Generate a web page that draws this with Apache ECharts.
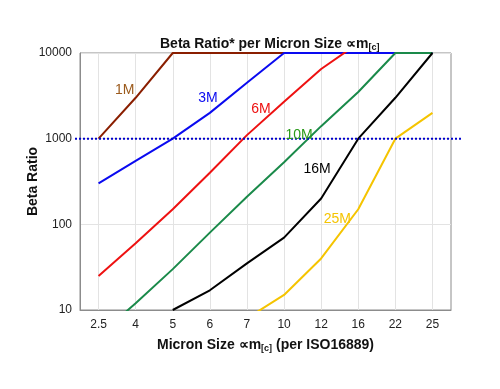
<!DOCTYPE html>
<html>
<head>
<meta charset="utf-8">
<script src="https://cdn.jsdelivr.net/npm/echarts@6/dist/echarts.min.js"></script>
<style>html,body{margin:0;padding:0;background:#fff}#c{width:500px;height:389px}</style>
</head>
<body>
<div id="c"></div>
<script>
const categories = ['2.5', '4', '5', '6', '7', '10', '12', '16', '22', '25'];
const yTicks = [10, 100, 1000, 10000];
const s1M  = [1000, 3000, 10000, 10000, 10000, 10000, 10000, 10000, 10000, 10000];
const s3M  = [300, 550, 1000, 2000, 4500, 10000, 10000, 10000, 10000, 10000];
const s6M  = [25, 60, 150, 400, 1100, 2700, 6500, 13000, null, null];
const s10M = [5, 12, 30, 80, 210, 530, 1400, 3500, 10000, 10000];
const s16M = [null, null, 10, 17, 35, 70, 200, 1000, 3000, 10000];
const s25M = [null, null, null, null, 8, 15, 40, 150, 1000, 2000];
const threshold = 1000;

const FONT = 'Liberation Sans, Arial, sans-serif';
const seriesDefs = [
  {name: '1M',  data: s1M,  color: '#8a1e00', labelColor: '#9b5a1c', idx: 1, off: [-11, -8]},
  {name: '3M',  data: s3M,  color: '#0a0af0', labelColor: '#0a0af0', idx: 3, off: [-2, -15]},
  {name: '6M',  data: s6M,  color: '#ee1111', labelColor: '#ee1111', idx: 4, off: [14, -26]},
  {name: '10M', data: s10M, color: '#1a8a4a', labelColor: '#2a9a1a', idx: 5, off: [15, -27]},
  {name: '16M', data: s16M, color: '#000000', labelColor: '#000000', idx: 6, off: [-4, -29]},
  {name: '25M', data: s25M, color: '#f5c400', labelColor: '#f5c400', idx: 7, off: [-21, 10]}
];

const series = seriesDefs.map(d => ({
  type: 'line',
  name: d.name,
  xAxisIndex: 0, yAxisIndex: 0,
  symbol: 'circle', symbolSize: 0, showSymbol: true,
  lineStyle: {color: d.color, width: 2},
  itemStyle: {color: d.color},
  silent: true,
  data: d.data.map((v, i) => i === d.idx ? {
    value: v,
    label: {show: true, position: 'inside', offset: d.off, formatter: d.name,
            color: d.labelColor, fontSize: 14, fontFamily: FONT}
  } : v)
}));

series.push({
  type: 'line', xAxisIndex: 1, yAxisIndex: 1, silent: true,
  symbol: 'none',
  lineStyle: {color: '#0000cc', width: 2, type: [2, 2]},
  data: [[0, threshold], [1, threshold]]
});

const richBold = {
  a: {fontFamily: FONT, fontWeight: 'bold', fontSize: 14, color: '#111'},
  b: {fontFamily: FONT, fontWeight: 'bold', fontSize: 9, color: '#111', padding: [7, 0, 0, 0]}
};

const chart = echarts.init(document.getElementById('c'));
chart.setOption({
  animation: false,
  backgroundColor: '#fff',
  title: {
    text: '{a|Beta Ratio* per Micron Size \u221dm}{b|[c]}',
    left: 155, top: 31,
    textStyle: {rich: richBold}
  },
  grid: [
    {left: 80, right: 49, top: 53, bottom: 79, show: true, borderColor: '#8c8c8c', borderWidth: 1},
    {left: 75, right: 37, top: 53, bottom: 79}
  ],
  xAxis: [{
    type: 'category', data: categories, gridIndex: 0,
    boundaryGap: true,
    axisLine: {show: true, lineStyle: {color: '#8c8c8c', width: 1}},
    axisTick: {show: false},
    axisLabel: {color: '#222', fontSize: 12, fontFamily: FONT, margin: 9},
    splitLine: {show: true, alignWithLabel: true, lineStyle: {color: '#e3e3e3', width: 1}},
    name: '{a|Micron Size \u221dm}{b|[c]}{a| (per ISO16889)}',
    nameLocation: 'middle', nameGap: 27,
    nameTextStyle: {rich: richBold}
  }, {
    type: 'value', gridIndex: 1, min: 0, max: 1, show: false
  }],
  yAxis: [{
    type: 'log', logBase: 10, min: 10, max: 10000, gridIndex: 0,
    axisLine: {show: true, lineStyle: {color: '#8c8c8c', width: 1}},
    axisTick: {show: false},
    axisLabel: {color: '#222', fontSize: 12, fontFamily: FONT, margin: 8,
                formatter: v => (yTicks.indexOf(Math.round(v)) >= 0 ? String(Math.round(v)) : '')},
    splitLine: {show: true, lineStyle: {color: '#e3e3e3', width: 1}},
    name: 'Beta Ratio', nameLocation: 'middle', nameGap: 40, nameMoveOverlap: false,
    nameTextStyle: {fontFamily: FONT, fontWeight: 'bold', fontSize: 14, color: '#111'}
  }, {
    type: 'log', logBase: 10, min: 10, max: 10000, gridIndex: 1, show: false
  }],
  series: series
});
</script>
</body>
</html>
